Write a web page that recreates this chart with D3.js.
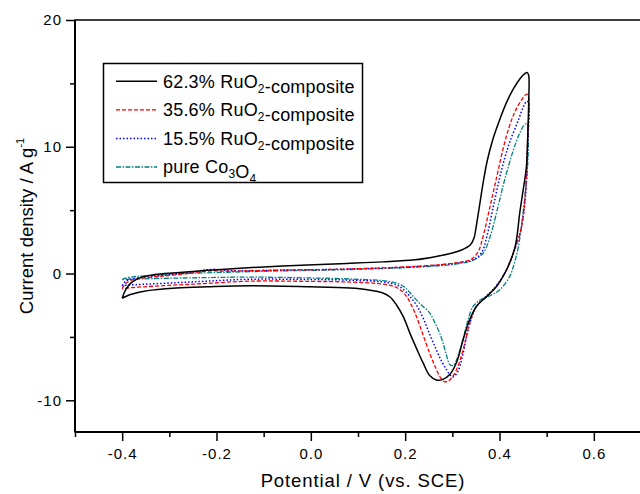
<!DOCTYPE html>
<html>
<head>
<meta charset="utf-8">
<script src="https://cdn.jsdelivr.net/npm/d3@7"></script>
<style>
  body { margin: 0; background: #fff; }
  svg { display: block; font-family: "Liberation Sans", Arial, sans-serif; }
</style>
</head>
<body>
<div id="chart"></div>
<script>
// CV curves, [potential V, current density A/g], anodic sweep then cathodic back to -0.4
const ru623 = [[-0.400,-1.95],[-0.393,-1.30],[-0.380,-0.70],[-0.360,-0.30],[-0.330,-0.08],[-0.285,0.06],[-0.220,0.25],[-0.150,0.42],[-0.060,0.60],[0.020,0.72],[0.076,0.80],[0.153,0.92],[0.220,1.08],[0.266,1.35],[0.300,1.62],[0.322,1.90],[0.338,2.25],[0.346,2.80],[0.351,3.80],[0.357,5.20],[0.365,7.10],[0.374,8.90],[0.386,10.6],[0.400,12.1],[0.415,13.5],[0.430,14.6],[0.443,15.35],[0.453,15.75],[0.459,15.85],[0.462,15.6],[0.462,13.7],[0.460,11.0],[0.457,8.4],[0.449,6.3],[0.443,4.8],[0.433,2.1],[0.415,0.3],[0.394,-1.0],[0.373,-1.8],[0.351,-2.6],[0.335,-3.8],[0.323,-5.2],[0.309,-7.0],[0.295,-7.95],[0.280,-8.35],[0.266,-8.4],[0.252,-8.05],[0.238,-7.05],[0.224,-5.9],[0.210,-4.7],[0.196,-3.4],[0.182,-2.5],[0.168,-1.85],[0.150,-1.5],[0.120,-1.28],[0.083,-1.15],[0.000,-1.05],[-0.130,-0.97],[-0.220,-1.05],[-0.285,-1.14],[-0.330,-1.28],[-0.356,-1.41],[-0.384,-1.67],[-0.400,-1.95]];

const ru356 = [[-0.400,-1.20],[-0.393,-0.80],[-0.380,-0.52],[-0.356,-0.36],[-0.320,-0.22],[-0.285,-0.10],[-0.250,0.05],[-0.225,0.18],[-0.205,0.22],[-0.180,0.18],[-0.130,0.22],[-0.050,0.28],[0.040,0.32],[0.120,0.40],[0.200,0.52],[0.274,0.70],[0.320,0.92],[0.340,1.12],[0.355,1.74],[0.365,2.9],[0.380,5.3],[0.394,7.6],[0.408,9.9],[0.420,11.5],[0.432,12.7],[0.447,13.7],[0.458,14.15],[0.462,13.9],[0.460,11.1],[0.456,7.0],[0.452,5.0],[0.445,3.4],[0.433,2.0],[0.415,0.3],[0.394,-1.0],[0.373,-1.8],[0.351,-2.6],[0.337,-3.9],[0.323,-6.0],[0.312,-7.3],[0.302,-8.05],[0.291,-8.5],[0.282,-8.5],[0.273,-8.1],[0.262,-7.2],[0.252,-6.3],[0.238,-4.85],[0.224,-3.4],[0.212,-2.4],[0.203,-1.8],[0.190,-1.3],[0.175,-1.0],[0.140,-0.78],[0.083,-0.67],[0.000,-0.62],[-0.130,-0.60],[-0.220,-0.78],[-0.285,-0.90],[-0.356,-1.05],[-0.385,-1.12],[-0.400,-1.20]];

const ru155 = [[-0.400,-0.95],[-0.393,-0.62],[-0.380,-0.42],[-0.356,-0.30],[-0.320,-0.18],[-0.285,-0.05],[-0.250,0.12],[-0.225,0.28],[-0.205,0.33],[-0.180,0.25],[-0.130,0.22],[-0.050,0.28],[0.040,0.32],[0.120,0.40],[0.200,0.50],[0.274,0.68],[0.320,0.88],[0.345,1.10],[0.362,1.65],[0.373,2.9],[0.387,5.3],[0.400,7.5],[0.411,9.1],[0.422,10.4],[0.440,12.1],[0.450,13.1],[0.458,13.6],[0.462,13.4],[0.460,10.5],[0.456,6.5],[0.451,4.8],[0.445,3.4],[0.433,2.0],[0.415,0.3],[0.394,-0.95],[0.373,-1.75],[0.351,-2.6],[0.338,-3.8],[0.330,-5.0],[0.321,-6.6],[0.312,-7.7],[0.302,-8.15],[0.295,-8.0],[0.288,-7.6],[0.277,-6.9],[0.266,-6.0],[0.252,-4.8],[0.238,-3.5],[0.224,-2.5],[0.210,-1.8],[0.196,-1.25],[0.182,-0.9],[0.150,-0.65],[0.083,-0.52],[0.000,-0.47],[-0.130,-0.45],[-0.220,-0.60],[-0.285,-0.72],[-0.356,-0.85],[-0.385,-0.90],[-0.400,-0.95]];

const co3o4 = [[-0.400,-0.48],[-0.393,-0.36],[-0.375,-0.25],[-0.356,-0.20],[-0.320,-0.10],[-0.285,-0.02],[-0.200,0.08],[-0.130,0.15],[-0.050,0.22],[0.040,0.28],[0.120,0.36],[0.200,0.46],[0.274,0.62],[0.320,0.82],[0.344,1.05],[0.365,1.6],[0.380,2.9],[0.397,5.3],[0.411,7.4],[0.429,9.7],[0.442,11.0],[0.452,11.7],[0.459,11.85],[0.461,11.0],[0.460,8.8],[0.455,6.5],[0.450,4.8],[0.440,2.1],[0.432,0.9],[0.422,-0.2],[0.400,-1.3],[0.380,-1.75],[0.365,-1.95],[0.344,-2.6],[0.333,-3.7],[0.326,-4.7],[0.318,-5.8],[0.309,-6.8],[0.302,-7.25],[0.295,-7.2],[0.288,-6.5],[0.282,-5.7],[0.273,-4.7],[0.262,-3.8],[0.252,-3.1],[0.238,-2.6],[0.224,-2.1],[0.210,-1.5],[0.196,-1.0],[0.170,-0.65],[0.083,-0.43],[0.000,-0.35],[-0.130,-0.28],[-0.220,-0.32],[-0.285,-0.36],[-0.356,-0.42],[-0.385,-0.45],[-0.400,-0.48]];

const seriesData = [ru623, ru356, ru155, co3o4];
// legend labels: pieces of [text, isSubscript]
const legendLabels = [
  [["62.3% RuO", 0], ["2", 1], ["-composite", 0]],
  [["35.6% RuO", 0], ["2", 1], ["-composite", 0]],
  [["15.5% RuO", 0], ["2", 1], ["-composite", 0]],
  [["pure Co", 0], ["3", 1], ["O", 0], ["4", 1]]
];
const colors = ["#000000", "#ff0000", "#0000ff", "#008080"];
const dashes = [null, "4,2", "1.5,2", "5,1.5,1.5,1.5"];
const widths = [1.5, 1.3, 1.5, 1.3];

const xMajor = [-0.4, -0.2, 0, 0.2, 0.4, 0.6];
const xMinor = [-0.5, -0.3, -0.1, 0.1, 0.3, 0.5, 0.7];
const yMajor = [-10, 0, 10, 20];
const yMinor = [-5, 5, 15];

const MARGIN = {TOP: 20, LEFT: 75};
const W = 566, H = 412;

const svg = d3.select("#chart").append("svg")
  .attr("width", 640).attr("height", 494);
const g = svg.append("g").attr("transform", `translate(${MARGIN.LEFT},${MARGIN.TOP})`);

const x = d3.scaleLinear().domain([-0.5, 0.7]).range([0, W]);
const y = d3.scaleLinear().domain([-12.5, 20]).range([H, 0]);

// minor ticks
g.append("g").attr("transform", `translate(0,${H})`)
  .call(d3.axisBottom(x).tickValues(xMinor).tickSize(5).tickSizeOuter(0).tickFormat(""))
  .call(a => a.select(".domain").remove())
  .selectAll("line").attr("stroke-width", 1.5);
g.append("g")
  .call(d3.axisLeft(y).tickValues(yMinor).tickSize(5).tickSizeOuter(0).tickFormat(""))
  .call(a => a.select(".domain").remove())
  .selectAll("line").attr("stroke-width", 1.5);

// major ticks
const xAxis = g.append("g").attr("transform", `translate(0,${H})`)
  .call(d3.axisBottom(x).tickValues(xMajor).tickSize(9).tickPadding(7).tickSizeOuter(0)
    .tickFormat(d => d.toFixed(1)));
xAxis.select(".domain").remove();
xAxis.selectAll("line").attr("stroke-width", 1.5);
xAxis.selectAll("text").attr("font-size", 15).attr("letter-spacing", 1)
  .attr("font-family", "Liberation Sans, Arial, sans-serif").attr("fill", "#000");

const yAxis = g.append("g")
  .call(d3.axisLeft(y).tickValues(yMajor).tickSize(9).tickPadding(4).tickSizeOuter(0)
    .tickFormat(d => String(d)));
yAxis.select(".domain").remove();
yAxis.selectAll("line").attr("stroke-width", 1.5);
yAxis.selectAll("text").attr("font-size", 15).attr("letter-spacing", 1)
  .attr("font-family", "Liberation Sans, Arial, sans-serif").attr("fill", "#000");

// frame
g.append("rect").attr("x", 0).attr("y", 0).attr("width", W).attr("height", H)
  .attr("fill", "none").attr("stroke", "#000").attr("stroke-width", 1.5);
g.append("line").attr("x1", 0).attr("x2", 0).attr("y1", 0).attr("y2", H)
  .attr("stroke", "#000").attr("stroke-width", 2);
g.append("line").attr("x1", 0).attr("x2", W).attr("y1", H).attr("y2", H)
  .attr("stroke", "#000").attr("stroke-width", 2);

// curves
const line = d3.line()
  .x(d => x(d[0]))
  .y(d => y(d[1]))
  .curve(d3.curveCatmullRom.alpha(0.5));

// draw teal first so black stays on top
[3, 2, 1, 0].forEach(i => {
  g.append("path")
    .datum(seriesData[i])
    .attr("d", line)
    .attr("fill", "none")
    .attr("stroke", colors[i])
    .attr("stroke-width", widths[i])
    .attr("stroke-dasharray", dashes[i]);
});

// legend
const leg = svg.append("g");
leg.append("rect").attr("x", 103.5).attr("y", 63.5).attr("width", 259).attr("height", 119)
  .attr("fill", "#fff").attr("stroke", "#000").attr("stroke-width", 1.5);
legendLabels.forEach((parts, i) => {
  const by = 87.5 + i * 28.6;
  leg.append("line").attr("x1", 116).attr("x2", 157).attr("y1", by - 6.3).attr("y2", by - 6.3)
    .attr("stroke", colors[i]).attr("stroke-width", widths[i])
    .attr("stroke-dasharray", dashes[i]);
  const t = leg.append("text").attr("x", 163).attr("y", by)
    .attr("font-size", 18).attr("letter-spacing", 0.2).attr("fill", "#000");
  parts.forEach(([s, sub]) => {
    t.append("tspan").text(s)
      .attr("font-size", sub ? 12 : 18)
      .attr("dy", sub ? 5 : 0);
    if (sub) {
      // back to the baseline for the next piece
      t.append("tspan").text("").attr("dy", -5);
    }
  });
});

// axis titles
svg.append("text")
  .attr("x", 363).attr("y", 487)
  .attr("text-anchor", "middle")
  .attr("font-size", 18.5).attr("letter-spacing", 0.9)
  .text("Potential / V (vs. SCE)");

const yt = svg.append("text")
  .attr("transform", `translate(33,${MARGIN.TOP + H / 2}) rotate(-90)`)
  .attr("text-anchor", "middle")
  .attr("font-size", 18.5);
yt.append("tspan").text("Current density / A g");
yt.append("tspan").text("-1").attr("font-size", 11).attr("dy", -9);
</script>
</body>
</html>
